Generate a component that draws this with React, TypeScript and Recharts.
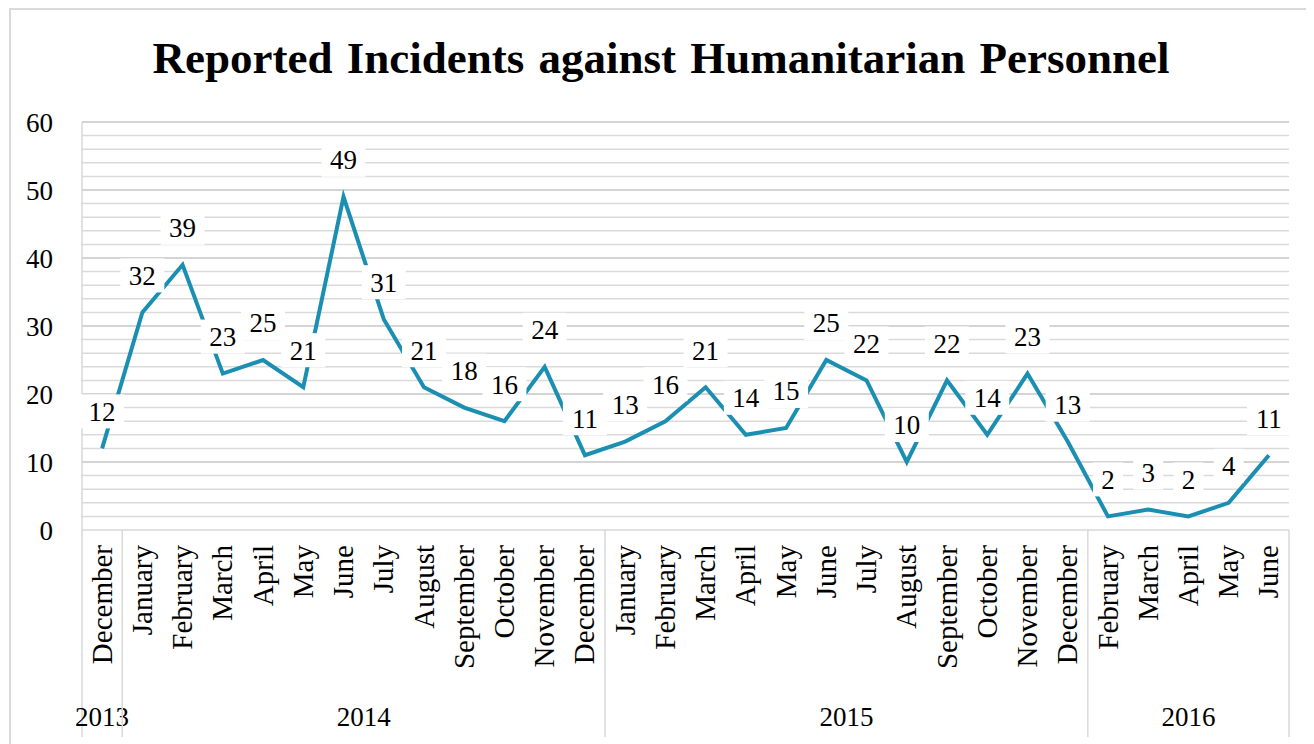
import React from "react";
import { LineChart, Line, XAxis, YAxis, ReferenceLine, LabelList } from "recharts";

const months = [
  "December",
  "January", "February", "March", "April", "May", "June", "July", "August", "September", "October", "November", "December",
  "January", "February", "March", "April", "May", "June", "July", "August", "September", "October", "November", "December",
  "February", "March", "April", "May", "June",
];
const incidents = [
  12,
  32, 39, 23, 25, 21, 49, 31, 21, 18, 16, 24, 11,
  13, 16, 21, 14, 15, 25, 22, 10, 22, 14, 23, 13,
  2, 3, 2, 4, 11,
];
const years = ["2013", "2014", "2015", "2016"];
const yearSizes = [1, 12, 12, 5];
const yTicks = [0, 10, 20, 30, 40, 50, 60];
const gridValues = [2, 4, 6, 8, 10, 12, 14, 16, 18, 20, 22, 24, 26, 28, 30, 32, 34, 36, 38, 40, 42, 44, 46, 48, 50, 52, 54, 56, 58, 60];

const title = "Reported Incidents against Humanitarian Personnel";

const data = months.map((m, i) => ({ key: `${i}-${m}`, month: m, value: incidents[i] }));

const W = 1306;
const H = 736;
const MARGIN = { top: 114, right: 25, left: 0, bottom: 0 };
const Y_W = 74;
const X_H = 214;
const PLOT_W = W - MARGIN.left - MARGIN.right - Y_W;
const BAND = PLOT_W / months.length;
const FONT = "'Liberation Serif', 'Times New Roman', serif";

const groupStarts: Record<number, number> = {};
{
  let s = 0;
  yearSizes.forEach((n, g) => {
    groupStarts[s] = g;
    s += n;
  });
}

const MonthTick = (props: any) => {
  const { x, y, payload } = props;
  const idx = payload.index;
  const axisY = y - 15;
  const els: React.ReactNode[] = [];
  els.push(
    <text
      key="m"
      x={x}
      y={y}
      transform={`rotate(-90, ${x}, ${y})`}
      textAnchor="end"
      dy="0.33em"
      fontFamily={FONT}
      fontSize={29}
      fill="#000"
    >
      {months[idx]}
    </text>
  );
  if (groupStarts[idx] !== undefined) {
    const g = groupStarts[idx];
    const left = x - BAND / 2;
    els.push(<line key="s" x1={left} x2={left} y1={axisY} y2={axisY + 207} stroke="#d9d9d9" strokeWidth={1.5} />);
    els.push(
      <text key="y" x={left + (yearSizes[g] * BAND) / 2} y={axisY + 196} textAnchor="middle" fontFamily={FONT} fontSize={27} fill="#000">
        {years[g]}
      </text>
    );
  }
  if (idx === months.length - 1) {
    const right = x + BAND / 2;
    els.push(<line key="e" x1={right} x2={right} y1={axisY} y2={axisY + 207} stroke="#d9d9d9" strokeWidth={1.5} />);
  }
  return <g>{els}</g>;
};

const ValueLabel = (props: any) => {
  const { x, y, value } = props;
  const s = String(value);
  const w = s.length * 14 + 16;
  const h = 34;
  const cy = y - 37;
  return (
    <g>
      <rect x={x - w / 2} y={cy - h / 2} width={w} height={h} fill="#fff" />
      <text x={x} y={cy} dy="0.35em" textAnchor="middle" fontFamily={FONT} fontSize={27} fill="#000">
        {s}
      </text>
    </g>
  );
};

export default function App() {
  return (
    <div style={{ position: "relative", width: W, height: H, background: "#fff" }}>
      <div
        style={{
          position: "absolute",
          left: 1,
          top: 0,
          width: W,
          height: H,
          borderTop: "2px solid #d9d9d9",
          borderLeft: "2px solid #d9d9d9",
          boxSizing: "border-box",
          pointerEvents: "none",
        }}
      />
      <div
        style={{
          position: "absolute",
          left: 0,
          top: 28,
          width: W,
          textAlign: "center",
          fontFamily: FONT,
          fontWeight: "bold",
          fontSize: 45,
          lineHeight: "45px",
          wordSpacing: "3px",
          color: "#000",
        }}
      >
        {title}
      </div>
      <LineChart width={W} height={H} data={data} margin={MARGIN}>
        {gridValues.map((v) => (
          <ReferenceLine key={v} y={v} stroke={v % 10 === 0 ? "#c6c6c6" : "#dadada"} strokeWidth={1.5} ifOverflow="visible" />
        ))}
        <XAxis
          dataKey="key"
          interval={0}
          height={X_H}
          padding={{ left: BAND / 2, right: BAND / 2 }}
          tickLine={false}
          tickMargin={9}
          axisLine={{ stroke: "#d9d9d9", strokeWidth: 1.5 }}
          tick={<MonthTick />}
        />
        <YAxis
          width={Y_W}
          domain={[0, 60]}
          ticks={yTicks}
          interval={0}
          tickLine={false}
          tickMargin={23}
          axisLine={{ stroke: "#d9d9d9", strokeWidth: 1.5 }}
          tick={{ fontFamily: FONT, fontSize: 27, fill: "#000" }}
        />
        <Line
          type="linear"
          dataKey="value"
          stroke="#1a8fb2"
          strokeWidth={4}
          dot={false}
          isAnimationActive={false}
        >
          <LabelList dataKey="value" content={<ValueLabel />} />
        </Line>
      </LineChart>
    </div>
  );
}
